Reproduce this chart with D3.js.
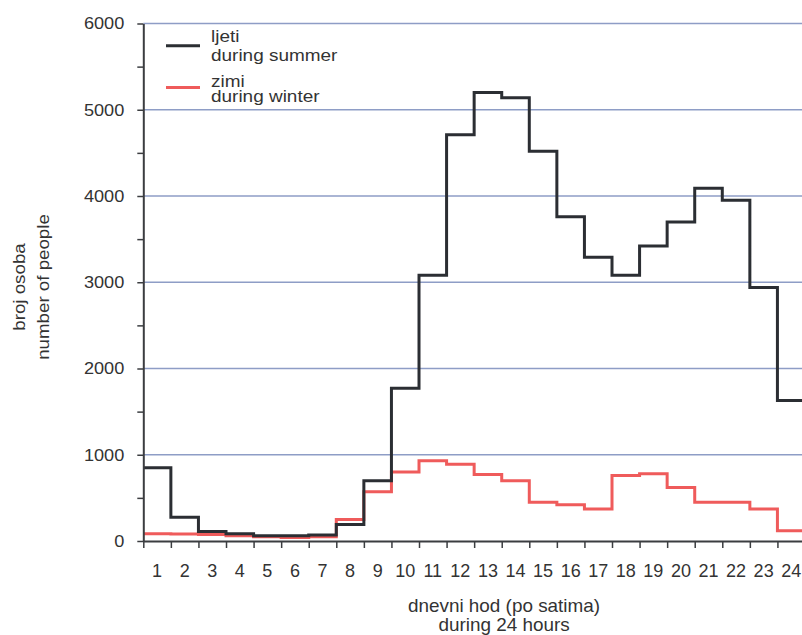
<!DOCTYPE html>
<html>
<head>
<meta charset="utf-8">
<script src="https://cdn.jsdelivr.net/npm/d3@7"></script>
<style>
  html, body { margin: 0; padding: 0; background: #fff; }
  svg { display: block; font-family: "Liberation Sans", Arial, sans-serif; }
</style>
</head>
<body>
<svg id="chart" width="802" height="635"></svg>
<script>
// ---- data ----
const hours = [1,2,3,4,5,6,7,8,9,10,11,12,13,14,15,16,17,18,19,20,21,22,23,24];
const summer = [850,275,110,85,60,60,70,190,700,1770,3080,4710,5200,5140,4520,3760,3290,3080,3420,3700,4090,3950,2940,1630];
const winter = [85,80,75,60,50,40,50,250,570,800,930,890,770,700,450,420,370,760,780,620,450,450,370,120];
const yTicks = [0,500,1000,1500,2000,2500,3000,3500,4000,4500,5000,5500,6000];
const yGrid = [1000,2000,3000,4000,5000,6000];
const seriesNames = [["ljeti","during summer"],["zimi","during winter"]];
const yTitle = ["broj osoba","number of people"];
const xTitle = ["dnevni hod (po satima)","during 24 hours"];

// ---- layout ----
const svg = d3.select("#chart");
const x0 = 143.3, x1 = 805, yBottom = 541, yTop = 23.5;
const x = d3.scaleLinear().domain([0, 24]).range([x0, x1]);
const xb = d3.scaleBand().domain(hours).range([x0, x1]);
const y = d3.scaleLinear().domain([0, 6000]).range([yBottom, yTop]);

const gridColor = "#8e9dc6";
const axisColor = "#3b3d40";
const summerColor = "#2b2e33";
const winterColor = "#ef5b5b";
const textColor = "#333";

function stext(parent, px, py, str, anchor, rot, fs, sx) {
  return parent.append("text")
    .attr("transform", `translate(${px},${py}) rotate(${rot || 0}) scale(${sx},1)`)
    .attr("text-anchor", anchor || "start")
    .attr("fill", textColor)
    .style("font-size", fs + "px")
    .text(str);
}

// gridlines
svg.append("g").selectAll("line").data(yGrid).join("line")
  .attr("x1", x0).attr("x2", 802)
  .attr("y1", d => y(d)).attr("y2", d => y(d))
  .attr("stroke", gridColor).attr("stroke-width", 1.6);

// step lines
const line = d3.line()
  .x(d => x(d[0])).y(d => y(d[1]))
  .curve(d3.curveStepAfter);
function pts(vals) {
  const p = vals.map((v, i) => [i, v]);
  p.push([24, vals[vals.length - 1]]);
  return p;
}
svg.append("path").attr("d", line(pts(winter)))
  .attr("fill", "none").attr("stroke", winterColor).attr("stroke-width", 3);
svg.append("path").attr("d", line(pts(summer)))
  .attr("fill", "none").attr("stroke", summerColor).attr("stroke-width", 3);

// y axis
const yAxis = d3.axisLeft(y).tickValues(yTicks).tickSize(6).tickSizeOuter(0).tickPadding(10)
  .tickFormat(d => d % 1000 === 0 ? String(d) : "");
const gy = svg.append("g").attr("transform", `translate(${x0},0)`).call(yAxis);
gy.select(".domain").attr("stroke", axisColor).attr("stroke-width", 2);
gy.selectAll(".tick line").attr("stroke", axisColor).attr("stroke-width", 1.5);
gy.selectAll(".tick text")
  .attr("x", 0)
  .attr("transform", `translate(-19,0) scale(1.1,1)`)
  .attr("fill", textColor).style("font-size", "16.5px")
  .style("font-family", "'Liberation Sans', Arial, sans-serif");

// x axis
const xAxis = d3.axisBottom(x).tickValues(d3.range(0, 25)).tickSize(7).tickSizeOuter(0).tickFormat("");
const gx = svg.append("g").attr("transform", `translate(0,${yBottom})`).call(xAxis);
gx.select(".domain").attr("stroke", axisColor).attr("stroke-width", 2);
gx.selectAll(".tick line").attr("stroke", axisColor).attr("stroke-width", 1.5);

// x labels (centered in hour bands)
const gxl = svg.append("g");
hours.forEach(h => stext(gxl, xb(h) + xb.bandwidth() / 2, 577, String(h), "middle", 0, 17.5, 1.03));

// x title
stext(svg, 504, 612, xTitle[0], "middle", 0, 18, 1.05);
stext(svg, 504, 630.5, xTitle[1], "middle", 0, 18, 1.05);

// y title
stext(svg, 24.5, 287, yTitle[0], "middle", -90, 16, 1.17);
stext(svg, 49, 287, yTitle[1], "middle", -90, 16, 1.17);

// legend
const legend = svg.append("g");
const legColors = [summerColor, winterColor];
const legLineY = [45.7, 87.5];
const legText1 = [42, 86.5];
const legText2 = [61, 102];
seriesNames.forEach((names, i) => {
  legend.append("line").attr("x1", 166).attr("x2", 200)
    .attr("y1", legLineY[i]).attr("y2", legLineY[i])
    .attr("stroke", legColors[i]).attr("stroke-width", 3);
  stext(legend, 211, legText1[i], names[0], "start", 0, 16.5, 1.15);
  stext(legend, 211, legText2[i], names[1], "start", 0, 16.5, 1.15);
});
</script>
</body>
</html>
